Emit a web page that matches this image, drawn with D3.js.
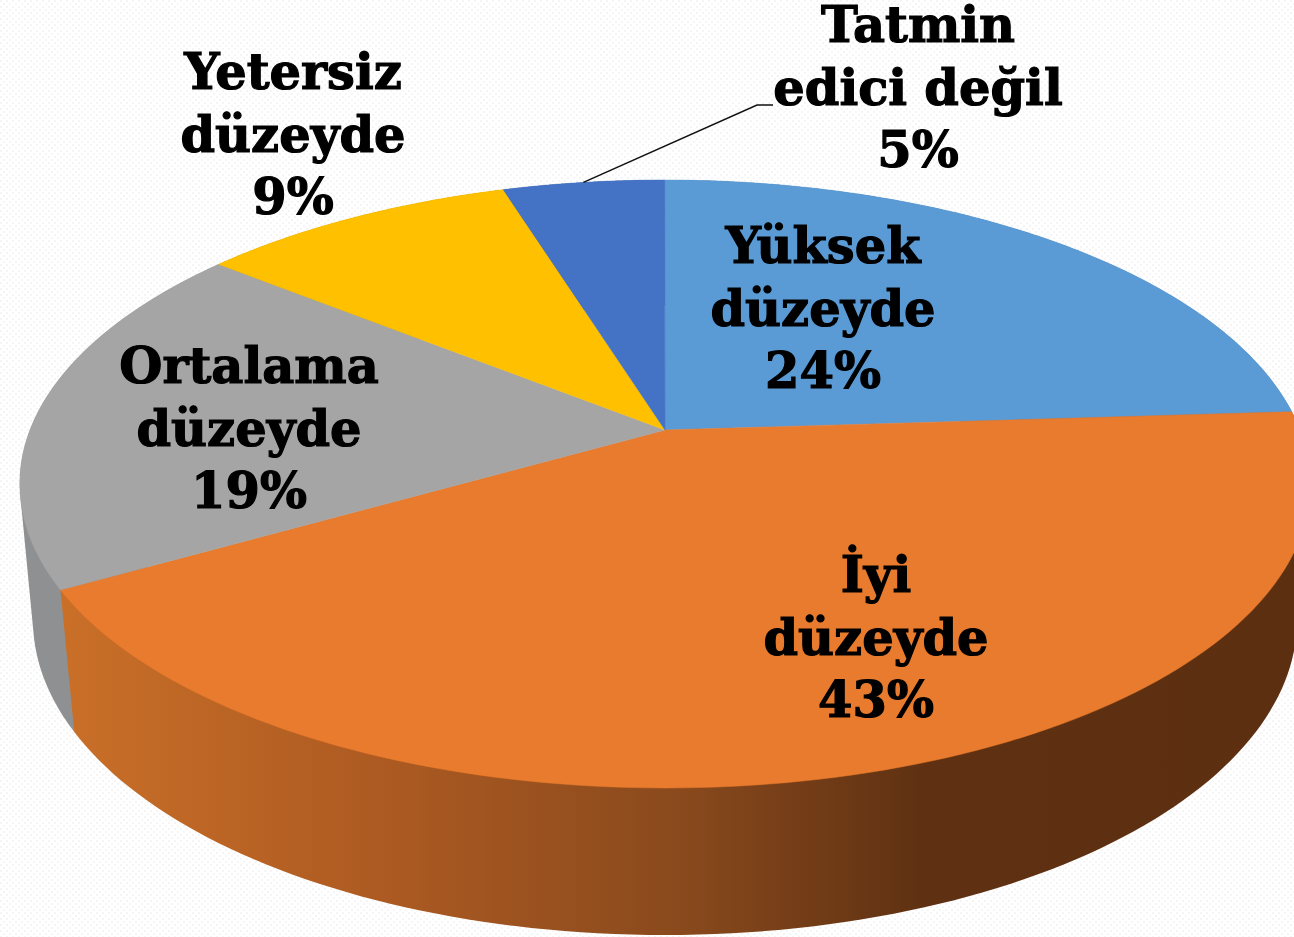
<!DOCTYPE html>
<html>
<head>
<meta charset="utf-8">
<script src="https://cdn.jsdelivr.net/npm/d3@7"></script>
<style>
  html, body { margin: 0; padding: 0; background: white; overflow: hidden; }
</style>
</head>
<body>
<div id="chart"></div>
<script>
const categories = ["Yüksek düzeyde", "İyi düzeyde", "Ortalama düzeyde", "Yetersiz düzeyde", "Tatmin edici değil"];
// slice sizes, the printed labels are rounded
const shares = [24, 42.75, 19, 9.45, 4.8];
const sliceColors = ["#5b9bd5", "#e87b2d", "#a5a5a5", "#ffc000", "#4472c4"];
const wallColors = ["#3f6f9c", "url(#wallOrange)", "#8f9092", "#b38600", "#2f5090"];
const labelLines = [
  ["Yüksek", "düzeyde", "24%"],
  ["İyi", "düzeyde", "43%"],
  ["Ortalama", "düzeyde", "19%"],
  ["Yetersiz", "düzeyde", "9%"],
  ["Tatmin", "edici değil", "5%"]
];
const labelX = [823, 876, 249, 293, 918];
const labelY = [263, 592, 383, 89, 42];

const width = 1294;
const height = 937;
const lineGap = 62.5;

// tilted disc: top face and bottom face of the pie, k is the perspective term
const topFace = { x: 662, off: 3, y: 430, c: 635, b: 294.4, k: -0.1776 };
const bottomFace = { x: 665, off: 0, y: 566.5, c: 622.8, b: 305.9, k: -0.17 };

function project(face, angle) {
  const u = Math.sin(angle);
  const v = -Math.cos(angle);
  const den = 1 + face.k * v;
  return [face.x + (face.c * u + face.off) / den, face.y + face.b * v / den];
}

function arcPoints(face, a0, a1, n) {
  return d3.range(0, n + 1).map(i => project(face, a0 + (a1 - a0) * i / n));
}

const slices = d3.pie().sort(null)(shares);
const line = d3.line();

const svg = d3.select("#chart").append("svg")
  .attr("width", width)
  .attr("height", height)
  .style("display", "block");

const defs = svg.append("defs");

const dots = defs.append("pattern")
  .attr("id", "dots")
  .attr("width", 6)
  .attr("height", 6)
  .attr("patternUnits", "userSpaceOnUse");
dots.append("rect").attr("width", 6).attr("height", 6).attr("fill", "white");
dots.append("rect").attr("x", 0).attr("y", 0).attr("width", 2).attr("height", 2).attr("fill", "#f5f5f5");
dots.append("rect").attr("x", 3).attr("y", 3).attr("width", 2).attr("height", 2).attr("fill", "#f5f5f5");

const grad = defs.append("linearGradient")
  .attr("id", "wallOrange")
  .attr("gradientUnits", "userSpaceOnUse")
  .attr("x1", 62).attr("x2", 1290).attr("y1", 0).attr("y2", 0);
[[0, "#c96f28"], [0.25, "#ae5b22"], [0.5, "#8a4a1d"], [0.7, "#5f3112"], [1, "#5c2f10"]]
  .forEach(([o, c]) => grad.append("stop").attr("offset", o).attr("stop-color", c));

svg.append("rect").attr("width", width).attr("height", height).attr("fill", "url(#dots)");

// side walls first as hulls of both arcs, orange last, the top face covers the rest
const wallOrder = [0, 4, 3, 2, 1];
svg.append("g").selectAll("path")
  .data(wallOrder)
  .join("path")
  .attr("fill", i => wallColors[i])
  .attr("d", i => {
    const d = slices[i];
    const pts = arcPoints(topFace, d.startAngle, d.endAngle, 120)
      .concat(arcPoints(bottomFace, d.startAngle, d.endAngle, 120));
    return line(d3.polygonHull(pts)) + "Z";
  });

// top face wedges run to the projected centre
svg.append("g").selectAll("path")
  .data(slices)
  .join("path")
  .attr("fill", (d, i) => sliceColors[i])
  .attr("stroke", (d, i) => sliceColors[i])
  .attr("stroke-width", 0.5)
  .attr("d", d => line([[topFace.x + topFace.off, topFace.y]]
    .concat(arcPoints(topFace, d.startAngle, d.endAngle, 120))) + "Z");

// leader line of the small slice
const tip = project(topFace, (slices[4].startAngle + slices[4].endAngle) / 2);
svg.append("path")
  .attr("fill", "none")
  .attr("stroke", "#111")
  .attr("stroke-width", 1.5)
  .attr("d", line([tip, [757, 105], [773, 105]]));

const labels = svg.append("g")
  .attr("font-family", "'DejaVu Serif', serif")
  .attr("font-weight", "bold")
  .attr("font-size", 49.5)
  .attr("fill", "#000")
  .attr("stroke", "#000")
  .attr("stroke-width", 1.2)
  .attr("text-anchor", "middle");

labelLines.forEach((rows, i) => {
  labels.selectAll(null)
    .data(rows)
    .join("text")
    .attr("x", labelX[i])
    .attr("y", (d, j) => labelY[i] + j * lineGap)
    .text(d => d);
});
</script>
</body>
</html>
